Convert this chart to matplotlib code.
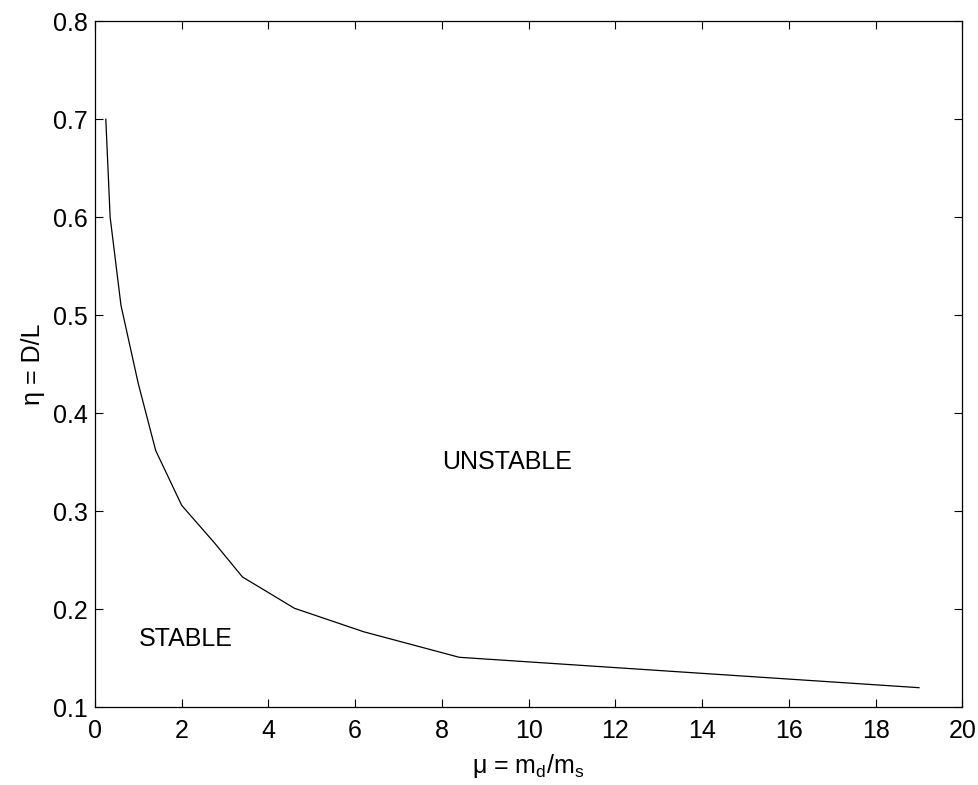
import matplotlib
matplotlib.use('Agg')
import matplotlib.pyplot as plt

plt.rcParams['font.family'] = ['Liberation Sans', 'DejaVu Sans']
plt.rcParams['mathtext.default'] = 'regular'

# stability boundary
mu = [0.25, 0.35, 0.6, 1.0, 1.4, 2.0, 2.75, 3.4, 4.6, 6.2, 8.4, 19.0]
eta = [0.70, 0.60, 0.51, 0.43, 0.362, 0.306, 0.268, 0.233, 0.201, 0.177, 0.151, 0.12]

xticks = [0, 2, 4, 6, 8, 10, 12, 14, 16, 18, 20]
yticks = [0.1, 0.2, 0.3, 0.4, 0.5, 0.6, 0.7, 0.8]

fs = 18

fig = plt.figure(figsize=(9.79, 7.85), dpi=100)
ax = fig.add_axes([0.097, 0.099, 0.886, 0.874])
ax.plot(mu, eta, color='black', linewidth=0.9)

ax.text(8.0, 0.35, 'UNSTABLE', fontsize=fs, va='center', ha='left')
ax.text(1.0, 0.17, 'STABLE', fontsize=fs, va='center', ha='left')

ax.set_xlim(0, 20)
ax.set_ylim(0.1, 0.8)
ax.set_xticks(xticks)
ax.set_yticks(yticks)
ax.set_xticklabels([str(t) for t in xticks])
ax.set_yticklabels(['%.1f' % t for t in yticks])
ax.tick_params(direction='in', top=True, right=True, labelsize=fs, length=6)
ax.tick_params(axis='x', pad=8.5)
ax.tick_params(axis='y', pad=5)
for s in ax.spines.values():
    s.set_linewidth(0.9)

ax.set_xlabel('μ = $m_d/m_s$', fontsize=fs, labelpad=6.5)
ax.set_ylabel('η = D/L', fontsize=fs, labelpad=6)

fig.savefig('out.png', dpi=100)
